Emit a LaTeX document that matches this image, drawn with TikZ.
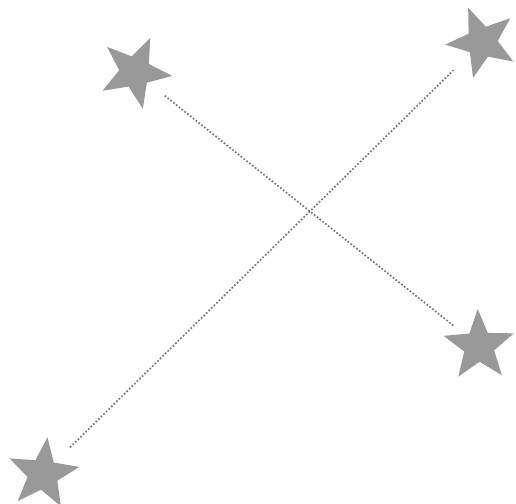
\documentclass[tikz,border=0pt]{standalone}
\usetikzlibrary{shapes.geometric}
\definecolor{stargray}{RGB}{153,153,153}
\definecolor{dotgray}{RGB}{120,120,120}
\begin{document}
\begin{tikzpicture}[x=1pt,y=-1pt,
  starnode/.style={star, star points=5, star point ratio=2.35, minimum size=74pt, inner sep=0pt, fill=stargray, draw=none},
  dotline/.style={draw=dotgray, line width=1.7pt, dash pattern=on 1.7pt off 1.9pt}]
\useasboundingbox (0,0) rectangle (516,503);
\node[starnode, minimum size=75pt, shape border rotate=-24] (s1) at (135,72) {};
\node[starnode, shape border rotate=22] (s2) at (482,42) {};
\node[starnode, shape border rotate=2] (s3) at (479,346) {};
\node[starnode, shape border rotate=-7] (s4) at (43,474) {};
\draw[dotline, shorten <=38pt, shorten >=32pt] (s1.center) -- (s3.center);
\draw[dotline, shorten <=38pt, shorten >=40pt] (s4.center) -- (s2.center);
\end{tikzpicture}
\end{document}
